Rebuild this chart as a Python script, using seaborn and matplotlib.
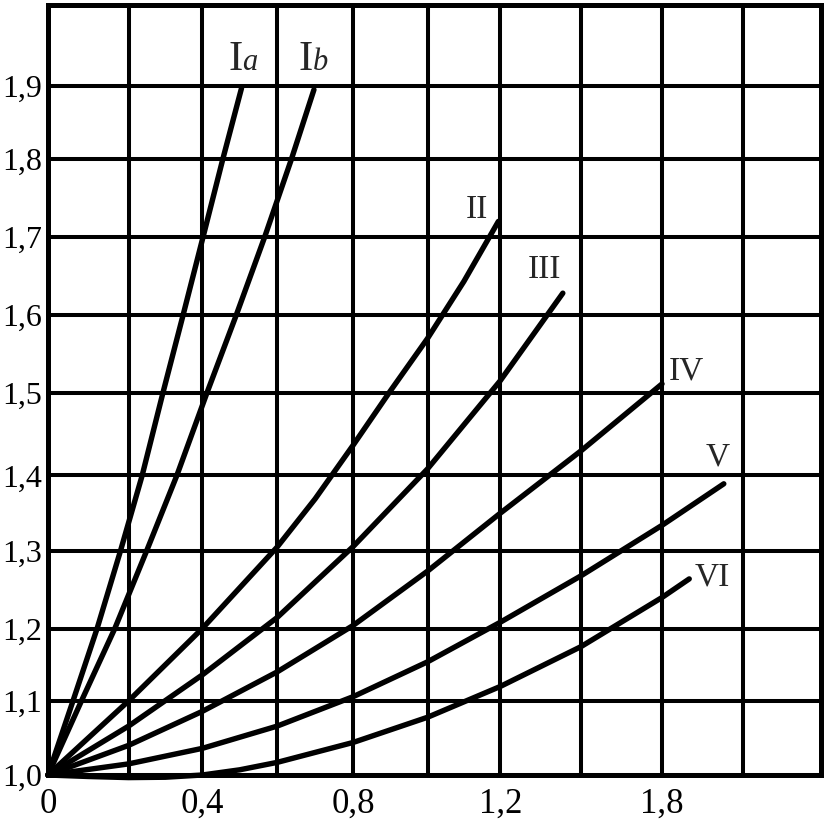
import matplotlib
matplotlib.use("Agg")
import matplotlib.pyplot as plt
import numpy as np
import seaborn as sns

# curves (x, y)
ia_x = [0.0, 0.062, 0.122, 0.18, 0.237, 0.293, 0.348, 0.402, 0.455, 0.505]
ia_y = [1.0, 1.1, 1.2, 1.3, 1.4, 1.5, 1.6, 1.7, 1.8, 1.897]

ib_x = [0.0, 0.083, 0.166, 0.249, 0.331, 0.412, 0.491, 0.567, 0.638, 0.697]
ib_y = [1.0, 1.1, 1.2, 1.3, 1.4, 1.5, 1.6, 1.7, 1.8, 1.895]

ii_x = [0.0, 0.2, 0.4, 0.6, 0.7, 0.8, 0.9, 1.0, 1.1, 1.195]
ii_y = [1.0, 1.1, 1.2, 1.305, 1.369, 1.437, 1.503, 1.57, 1.643, 1.72]

iii_x = [0.0, 0.2, 0.4, 0.6, 0.8, 1.0, 1.2, 1.355]
iii_y = [1.0, 1.066, 1.136, 1.214, 1.306, 1.408, 1.516, 1.628]

iv_x = [0.0, 0.2, 0.4, 0.6, 0.8, 1.0, 1.2, 1.4, 1.6]
iv_y = [1.0, 1.04, 1.086, 1.14, 1.204, 1.274, 1.35, 1.43, 1.512]

v_x = [0.0, 0.2, 0.4, 0.6, 0.8, 1.0, 1.2, 1.4, 1.6, 1.752]
v_y = [1.0, 1.015, 1.036, 1.066, 1.106, 1.154, 1.208, 1.268, 1.334, 1.389]

vi_x = [0.0, 0.1, 0.2, 0.3, 0.4, 0.5, 0.6, 0.8, 1.0, 1.2, 1.4, 1.6, 1.667]
vi_y = [1.0, 0.998, 0.9965, 0.997, 1.0, 1.007, 1.017, 1.044, 1.078, 1.12, 1.175, 1.24, 1.264]

x_ticks = [0.0, 0.2, 0.4, 0.6, 0.8, 1.0, 1.2, 1.4, 1.6, 1.8]
x_tick_labels = ["0", "", "0,4", "", "0,8", "", "1,2", "", "1,8", ""]
y_ticks = [1.0, 1.1, 1.2, 1.3, 1.4, 1.5, 1.6, 1.7, 1.8, 1.9]
y_tick_labels = ["1,0", "1,1", "1,2", "1,3", "1,4", "1,5", "1,6", "1,7", "1,8", "1,9"]

# the hand-drawn grid is slightly uneven: pixel position of each grid line
x_grid_px = [48, 128.5, 202.3, 277, 353.2, 427.5, 500.2, 581, 662, 743.3, 821]
y_grid_px = [775, 701, 628.5, 551, 475.5, 393.3, 315, 237, 159, 86, 5]
x_knots = np.linspace(0.0, 2.0, 11)
y_knots = np.linspace(1.0, 2.0, 11)
x_dst = np.array(x_grid_px) - x_grid_px[0]
y_dst = y_grid_px[0] - np.array(y_grid_px)


def piecewise(v, src, dst):
    v = np.asarray(v, dtype=float)
    out = np.interp(v, src, dst)
    lo_slope = (dst[1] - dst[0]) / (src[1] - src[0])
    hi_slope = (dst[-1] - dst[-2]) / (src[-1] - src[-2])
    out = np.where(v < src[0], dst[0] + (v - src[0]) * lo_slope, out)
    out = np.where(v > src[-1], dst[-1] + (v - src[-1]) * hi_slope, out)
    return out


sns.set_theme(style="white")
plt.rcParams["font.family"] = ["Liberation Serif", "DejaVu Serif"]

fig = plt.figure(figsize=(8.24, 8.22), dpi=100)
ax = fig.add_axes([48 / 824, 47 / 822, 773 / 824, 770 / 822])

ax.set_xscale("function", functions=(lambda v: piecewise(v, x_knots, x_dst),
                                     lambda v: piecewise(v, x_dst, x_knots)))
ax.set_yscale("function", functions=(lambda v: piecewise(v, y_knots, y_dst),
                                     lambda v: piecewise(v, y_dst, y_knots)))

curves = [(ia_x, ia_y), (ib_x, ib_y), (ii_x, ii_y), (iii_x, iii_y),
          (iv_x, iv_y), (v_x, v_y), (vi_x, vi_y)]
for cx, cy in curves:
    sns.lineplot(x=cx, y=cy, ax=ax, color="black", linewidth=3.9,
                 sort=False, estimator=None, clip_on=False, zorder=3)

ax.set_xlim(0, 2.0)
ax.set_ylim(1.0, 2.0)
ax.set_xticks(x_ticks)
ax.set_xticklabels(x_tick_labels)
ax.set_yticks(y_ticks)
ax.set_yticklabels(y_tick_labels)
ax.minorticks_off()
ax.grid(True, color="black", linewidth=2.9)
ax.tick_params(axis="both", direction="out", length=2.5, width=1,
               color="black", labelcolor="black", pad=2)
ax.tick_params(axis="y", labelsize=23)
ax.tick_params(axis="x", labelsize=25, pad=7)
for side in ax.spines.values():
    side.set_color("black")
    side.set_linewidth(3.6)
    side.set_zorder(4)

# curve labels
ax.text(0.507, 1.92, "I", fontsize=31, ha="right", va="baseline")
ax.text(0.507, 1.92, "a", fontsize=22, style="italic", ha="left", va="baseline")
ax.text(0.695, 1.92, "I", fontsize=31, ha="right", va="baseline")
ax.text(0.695, 1.92, "b", fontsize=22, style="italic", ha="left", va="baseline")

roman = [("II", 1.167, 1.724, "right"), ("III", 1.269, 1.647, "left"),
         ("IV", 1.617, 1.518, "left"), ("V", 1.707, 1.412, "left"),
         ("VI", 1.681, 1.255, "left")]
for txt, tx, ty, align in roman:
    ax.text(tx, ty, txt, fontsize=24, ha=align, va="baseline")

fig.savefig("out.png", dpi=100, facecolor="white")
